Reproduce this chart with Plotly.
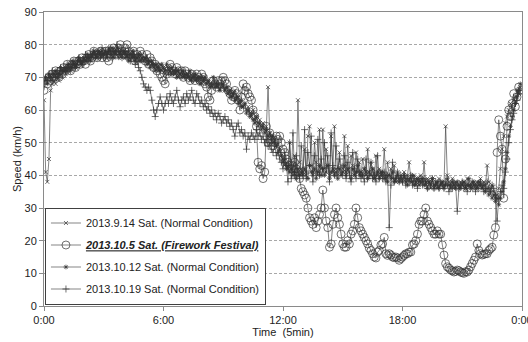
import plotly.graph_objects as go

# x positions: 5-minute slots over one day (0 .. 287)
slots = list(range(288))
tick_vals = [0, 72, 144, 216, 288]
tick_text = ["0:00", "6:00", "12:00", "18:00", "0:00"]

names = [
    "2013.9.14 Sat. (Normal Condition)",
    "<b><i><u>2013.10.5 Sat. (Firework Festival)</u></i></b>",
    "2013.10.12 Sat. (Normal Condition)",
    "2013.10.19 Sat. (Normal Condition)",
]

speed_0914 = [
    63, 41, 38, 45, 66, 68, 69, 68, 70, 69, 71, 70,
    72, 71, 72, 73, 72, 73, 74, 73, 74, 75, 74, 75,
    76, 75, 76, 77, 76, 77, 78, 77, 76, 78, 77, 78,
    77, 78, 77, 79, 78, 77, 78, 77, 79, 78, 77, 76,
    78, 77, 78, 76, 77, 78, 76, 77, 76, 75, 77, 76,
    75, 76, 75, 74, 75, 74, 73, 74, 73, 72, 74, 72,
    73, 71, 72, 73, 72, 71, 72, 71, 72, 70, 71, 72,
    70, 71, 70, 71, 69, 70, 71, 69, 70, 69, 70, 68,
    69, 70, 68, 69, 68, 67, 68, 69, 67, 68, 66, 67,
    68, 66, 67, 65, 66, 64, 65, 66, 63, 64, 62, 63,
    61, 62, 60, 61, 59, 58, 60, 57, 58, 56, 57, 55,
    56, 54, 55, 67, 53, 52, 50, 51, 49, 50, 48, 46,
    45, 43, 44, 42, 50, 43, 41, 46, 40, 63, 44, 42,
    41, 48, 40, 52, 55, 43, 41, 50, 44, 40, 54, 42,
    54, 42, 48, 43, 40, 52, 41, 55, 42, 40, 47, 43,
    42, 52, 41, 49, 42, 46, 43, 40, 47, 41, 44, 40,
    45, 42, 40, 48, 41, 44, 42, 39, 46, 40, 42, 41,
    40, 48, 39, 44, 40, 42, 39, 43, 38, 41, 39, 40,
    39, 41, 38, 40, 44, 39, 38, 40, 37, 39, 38, 40,
    38, 44, 37, 39, 38, 36, 39, 37, 38, 36, 39, 37,
    38, 37, 55, 40, 38, 37, 39, 36, 38, 37, 36, 38,
    37, 38, 36, 39, 37, 36, 38, 37, 36, 38, 37, 39,
    36, 38, 37, 43, 38, 36, 37, 35, 33, 34, 36, 42,
    48, 52, 56, 58, 60, 62, 61, 63, 64, 66, 65, 67,
]

speed_1005 = [
    66, 69, 68, 70, 69, 71, 70, 72, 71, 70, 72, 71,
    73, 72, 74, 73, 72, 74, 75, 73, 74, 75, 74, 76,
    75, 74, 76, 77, 75, 76, 78, 77, 76, 77, 78, 76,
    77, 78, 76, 75, 77, 78, 79, 77, 78, 79, 80, 78,
    77, 79, 80, 78, 77, 76, 78, 75, 77, 76, 78, 77,
    76, 75, 77, 74, 76, 75, 73, 74, 72, 73, 71, 70,
    69, 68, 71, 72, 74, 73, 72, 71, 73, 72, 71, 72,
    70, 72, 71, 70, 69, 71, 70, 69, 71, 70, 69, 71,
    70, 68, 67, 64, 63, 66, 69, 68, 67, 69, 68, 69,
    70, 69, 68, 66, 65, 63, 64, 66, 65, 63, 60, 64,
    68, 66, 67, 65, 64, 63, 60, 58, 55, 44, 42, 43,
    39, 41, 55, 50, 53, 51, 49, 50, 52, 51, 52, 50,
    48, 47, 45, 44, 43, 42, 43, 44, 42, 41, 39, 36,
    35, 34, 33, 30, 27, 26, 25, 27, 24, 26, 28, 30,
    35.5, 30, 26, 24, 18, 19, 25, 28, 30, 27, 25, 22,
    19, 18, 18, 20, 19, 22, 23, 25, 30, 27, 24, 23,
    22, 21, 20, 19, 17.7, 17, 16, 15, 14.7, 16.5, 17, 18.7,
    19, 21, 16, 15.5, 16, 15.6, 15, 14.8, 15, 14.7, 14, 14.5,
    15, 15.5, 16, 16, 16.5, 16.5, 18.7, 19, 20, 22, 25, 26,
    26, 28, 30, 26, 25, 24, 23, 22, 22, 23, 22, 22,
    18.7, 15.6, 13, 12, 11.6, 11, 10.8, 10.4, 10.6, 11, 10.8, 10.4,
    10.2, 10, 10.5, 10.4, 11, 12, 13, 14, 15, 19, 17, 16,
    15.6, 15.8, 16, 16, 17, 17.5, 18, 21.7, 24, 47, 57, 52,
    48, 33, 45, 55, 60, 58, 62, 65, 61, 64, 67, 66,
]

speed_1012 = [
    69, 70, 68, 71, 70, 69, 71, 72, 70, 71, 73, 72,
    72, 73, 72, 74, 73, 75, 74, 73, 75, 76, 75, 74,
    76, 75, 77, 76, 75, 77, 78, 76, 77, 78, 76, 77,
    77, 78, 76, 78, 77, 79, 76, 78, 77, 76, 78, 77,
    78, 76, 77, 75, 77, 76, 78, 75, 76, 77, 75, 76,
    75, 76, 74, 75, 73, 75, 74, 72, 74, 73, 72, 74,
    73, 72, 74, 71, 72, 73, 71, 72, 70, 72, 71, 70,
    72, 70, 71, 70, 72, 69, 70, 71, 69, 70, 68, 70,
    69, 70, 68, 69, 67, 68, 70, 67, 68, 67, 66, 68,
    67, 66, 67, 65, 66, 64, 65, 63, 64, 62, 63, 61,
    61, 62, 59, 60, 58, 59, 57, 56, 58, 55, 56, 54,
    55, 53, 54, 52, 53, 51, 52, 50, 49, 47, 48, 46,
    44, 45, 42, 43, 41, 42, 40, 41, 39, 42, 40, 41,
    40, 42, 41, 39, 43, 41, 40, 42, 39, 41, 43, 40,
    42, 40, 41, 43, 39, 41, 42, 40, 41, 39, 42, 40,
    41, 43, 40, 42, 41, 39, 42, 40, 41, 43, 40, 41,
    40, 42, 41, 39, 41, 40, 42, 39, 40, 41, 39, 40,
    41, 39, 40, 38, 40, 39, 41, 38, 39, 40, 38, 39,
    38, 40, 39, 37, 39, 38, 40, 37, 38, 39, 37, 38,
    39, 37, 38, 36, 38, 37, 39, 36, 37, 38, 36, 37,
    38, 36, 37, 39, 37, 36, 38, 37, 36, 38, 37, 36,
    37, 38, 36, 37, 39, 37, 36, 38, 37, 36, 38, 37,
    36, 37, 35, 36, 34, 35, 33, 34, 32, 33, 31, 33,
    35, 38, 42, 47, 52, 55, 58, 60, 62, 64, 66, 68,
]

speed_1019 = [
    68, 70, 69, 71, 70, 72, 71, 70, 72, 71, 73, 72,
    73, 72, 74, 73, 72, 74, 75, 73, 74, 76, 75, 74,
    75, 77, 76, 75, 77, 76, 78, 77, 76, 78, 77, 79,
    76, 78, 77, 79, 78, 76, 78, 77, 80, 78, 77, 76,
    78, 77, 76, 78, 75, 77, 76, 74, 75, 73, 72, 70,
    68, 67, 66, 67, 66, 63, 60, 58, 60, 62, 64, 62,
    60, 62, 64, 62, 65, 63, 62, 64, 66, 63, 61, 63,
    64, 62, 65, 63, 64, 66, 63, 62, 65, 64, 62, 63,
    61, 62, 60, 61, 59, 60, 58, 59, 57, 59, 58, 56,
    57, 58, 56, 57, 55, 56, 54, 52, 55, 56, 53, 54,
    52, 53, 48, 52, 51, 53, 52, 51, 54, 52, 53, 51,
    52, 50, 51, 49, 50, 48, 47, 49, 46, 47, 45, 44,
    42, 47, 43, 38, 50, 39, 53, 40, 46, 41, 39, 49,
    40, 54, 39, 47, 43, 52, 38, 46, 41, 51, 40, 45,
    41, 50, 42, 46, 38, 53, 43, 40, 49, 42, 45, 41,
    40, 46, 39, 44, 40, 38, 47, 42, 39, 45, 41, 39,
    40, 38, 45, 39, 40, 44, 39, 41, 38, 46, 39, 41,
    39, 41, 38, 40, 24, 37, 44, 38, 39, 41, 38, 40,
    38, 40, 37, 39, 38, 40, 37, 39, 38, 36, 39, 38,
    37, 39, 38, 36, 38, 37, 39, 36, 38, 37, 36, 38,
    37, 36, 38, 37, 35, 37, 36, 38, 37, 29, 36, 37,
    38, 36, 37, 35, 37, 36, 38, 37, 35, 37, 36, 38,
    37, 35, 36, 38, 36, 35, 37, 36, 34, 26, 33, 35,
    37, 36, 41, 45, 50, 54, 57, 59, 62, 63, 65, 66,
]

series = [speed_0914, speed_1005, speed_1012, speed_1019]
for s in series:
    assert len(s) == 288, len(s)

symbols = ["x-thin-open", "circle-open", "asterisk-open", "cross-thin-open"]
sizes = [4, 8, 4, 5]

fig = go.Figure()
for i, (nm, ys) in enumerate(zip(names, series)):
    fig.add_trace(go.Scatter(
        x=slots, y=ys, name=nm, mode="lines+markers",
        legendgroup=str(i),
        line=dict(color="#333333", width=0.6),
        marker=dict(symbol=symbols[i], size=sizes[i], color="#333333",
                    line=dict(color="#333333", width=0.7)),
    ))

font_family = "Liberation Sans, Arial, sans-serif"
fig.update_layout(
    width=528, height=342,
    margin=dict(l=44, r=6, t=12, b=36),
    paper_bgcolor="white", plot_bgcolor="white",
    font=dict(family=font_family, size=11, color="#222222"),
    showlegend=True,
    legend=dict(
        x=0.002, y=0.335, xanchor="left", yanchor="top",
        bgcolor="white", bordercolor="#404040", borderwidth=1,
        font=dict(family=font_family, size=11, color="#222222"),
        traceorder="grouped", tracegroupgap=3,
        itemwidth=30,
    ),
    xaxis=dict(
        range=[0, 288], tickmode="array", tickvals=tick_vals, ticktext=tick_text,
        showgrid=False, zeroline=False,
        showline=True, linecolor="#8a8a8a", linewidth=1, mirror=True,
        ticks="outside", ticklen=4, tickcolor="#8a8a8a",
        tickfont=dict(size=11), ticklabeloverflow="allow",
        title=dict(text="Time  (5min)", font=dict(size=11), standoff=2),
        automargin=False,
    ),
    yaxis=dict(
        range=[0, 90], dtick=10, tick0=0,
        showgrid=True, gridcolor="#a8a8a8", griddash="3px,2px", gridwidth=1,
        zeroline=False,
        showline=True, linecolor="#8a8a8a", linewidth=1, mirror=True,
        ticks="outside", ticklen=4, tickcolor="#8a8a8a",
        tickfont=dict(size=11),
        title=dict(text="Speed (km/h)", font=dict(size=11), standoff=0),
        automargin=False,
    ),
)

fig.write_html("out.html")
